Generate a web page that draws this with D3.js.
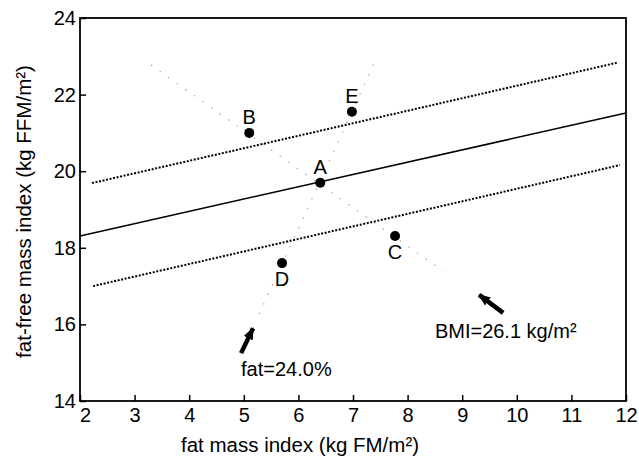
<!DOCTYPE html>
<html lang="en">
<head>
<meta charset="UTF-8">
<title>Fat-free mass index vs fat mass index</title>
<script src="https://cdn.jsdelivr.net/npm/d3@7"></script>
<style>
  body { margin: 0; background: #fff; }
  svg text { font-family: "Liberation Sans", Arial, Helvetica, sans-serif; fill: #000; }
</style>
</head>
<body>
<div id="container"></div>
<script>
// tick values
const xTicks = [2, 3, 4, 5, 6, 7, 8, 9, 10, 11, 12];
const yTicks = [14, 16, 18, 20, 22, 24];

// subjects
const subjectNames = ["A", "B", "C", "D", "E"];
const subjectFmi = [6.4, 5.1, 7.77, 5.7, 6.98];
const subjectFfmi = [19.7, 21.0, 18.31, 17.6, 21.55];
const labelSide = ["above", "above", "below", "below", "above"];

// regression line and its +/- band (fmi, ffmi pairs)
const regressionLine = [[2, 18.31], [12, 21.52]];
const upperBand = [[2.22, 19.69], [11.83, 22.83]];
const lowerBand = [[2.24, 17.0], [11.89, 20.16]];

// iso lines
const bmiLine = [[3.3, 22.77], [8.65, 17.39]];
const fatLine = [[5.28, 16.27], [7.44, 22.98]];

// annotations: arrow tail -> tip, text anchor
const fatArrow = [[4.95, 15.25], [5.17, 15.9]];
const bmiArrow = [[9.75, 16.3], [9.31, 16.77]];
const fatLabel = { text: "fat=24.0%", x: 4.95, y: 14.65 };
const bmiLabel = { text: "BMI=26.1 kg/m²", x: 8.5, y: 15.64 };

const width = 639;
const height = 461;
const marginLeft = 80;
const marginRight = 13;
const marginTop = 18;
const marginBottom = 60;

const x = d3.scaleLinear()
    .domain([2, 12])
    .range([marginLeft, width - marginRight]);

const y = d3.scaleLinear()
    .domain([14, 24])
    .range([height - marginBottom, marginTop]);

const svg = d3.create("svg")
    .attr("width", width)
    .attr("height", height);

svg.append("defs").append("marker")
    .attr("id", "head")
    .attr("markerUnits", "userSpaceOnUse")
    .attr("viewBox", "0 0 12 10")
    .attr("refX", 11)
    .attr("refY", 5)
    .attr("markerWidth", 12)
    .attr("markerHeight", 10)
    .attr("orient", "auto")
  .append("path")
    .attr("d", "M0,0L12,5L0,10Z")
    .attr("fill", "#000");

const line = d3.line().x(d => x(d[0])).y(d => y(d[1]));

// faint iso lines
[bmiLine, fatLine].forEach(pts => {
  svg.append("path")
      .attr("d", line(pts))
      .attr("fill", "none")
      .attr("stroke", "#aaa")
      .attr("stroke-width", 1.2)
      .attr("stroke-dasharray", "1.5,9");
});

// band lines
[upperBand, lowerBand].forEach(pts => {
  svg.append("path")
      .attr("d", line(pts))
      .attr("fill", "none")
      .attr("stroke", "#000")
      .attr("stroke-width", 2)
      .attr("stroke-dasharray", "2,1.6");
});

svg.append("path")
    .attr("d", line(regressionLine))
    .attr("fill", "none")
    .attr("stroke", "#000")
    .attr("stroke-width", 1.6);

// axes with inward ticks
const xAxis = svg.append("g")
    .attr("transform", `translate(0,${y(14)})`)
    .call(d3.axisBottom(x).tickValues(xTicks).tickSize(-6).tickPadding(7));

const yAxis = svg.append("g")
    .attr("transform", `translate(${x(2)},0)`)
    .call(d3.axisLeft(y).tickValues(yTicks).tickSize(-6).tickPadding(4));

[xAxis, yAxis].forEach(g => {
  g.select(".domain").remove();
  g.selectAll(".tick line").attr("stroke", "#000").attr("stroke-width", 1.5);
  g.selectAll(".tick text")
      .attr("font-size", 20)
      .attr("font-family", "Liberation Sans, Arial, sans-serif");
});

// first x label sits a bit right of the corner
xAxis.selectAll(".tick text").filter(d => d === 2).attr("dx", 5);

// frame
svg.append("rect")
    .attr("x", x(2))
    .attr("y", y(24))
    .attr("width", x(12) - x(2))
    .attr("height", y(14) - y(24))
    .attr("fill", "none")
    .attr("stroke", "#000")
    .attr("stroke-width", 1.8);

// subjects
svg.append("g")
  .selectAll("circle")
  .data(subjectNames)
  .join("circle")
    .attr("cx", (d, i) => x(subjectFmi[i]))
    .attr("cy", (d, i) => y(subjectFfmi[i]))
    .attr("r", 5)
    .attr("fill", "#000");

svg.append("g")
  .selectAll("text")
  .data(subjectNames)
  .join("text")
    .attr("x", (d, i) => x(subjectFmi[i]))
    .attr("y", (d, i) => y(subjectFfmi[i]) + (labelSide[i] === "above" ? -9 : 23))
    .attr("text-anchor", "middle")
    .attr("font-size", 20)
    .text(d => d);

// annotation arrows
[fatArrow, bmiArrow].forEach(pts => {
  svg.append("path")
      .attr("d", line(pts))
      .attr("stroke", "#000")
      .attr("stroke-width", 4.5)
      .attr("marker-end", "url(#head)");
});

[fatLabel, bmiLabel].forEach(l => {
  svg.append("text")
      .attr("x", x(l.x))
      .attr("y", y(l.y))
      .attr("font-size", 20)
      .text(l.text);
});

// axis titles
svg.append("text")
    .attr("x", 300)
    .attr("y", 452)
    .attr("text-anchor", "middle")
    .attr("font-size", 20.5)
    .text("fat mass index (kg FM/m²)");

svg.append("text")
    .attr("transform", `translate(31,${(y(14) + y(24)) / 2 + 2}) rotate(-90)`)
    .attr("text-anchor", "middle")
    .attr("font-size", 20.5)
    .text("fat-free mass index (kg FFM/m²)");

document.getElementById("container").append(svg.node());
</script>
</body>
</html>
